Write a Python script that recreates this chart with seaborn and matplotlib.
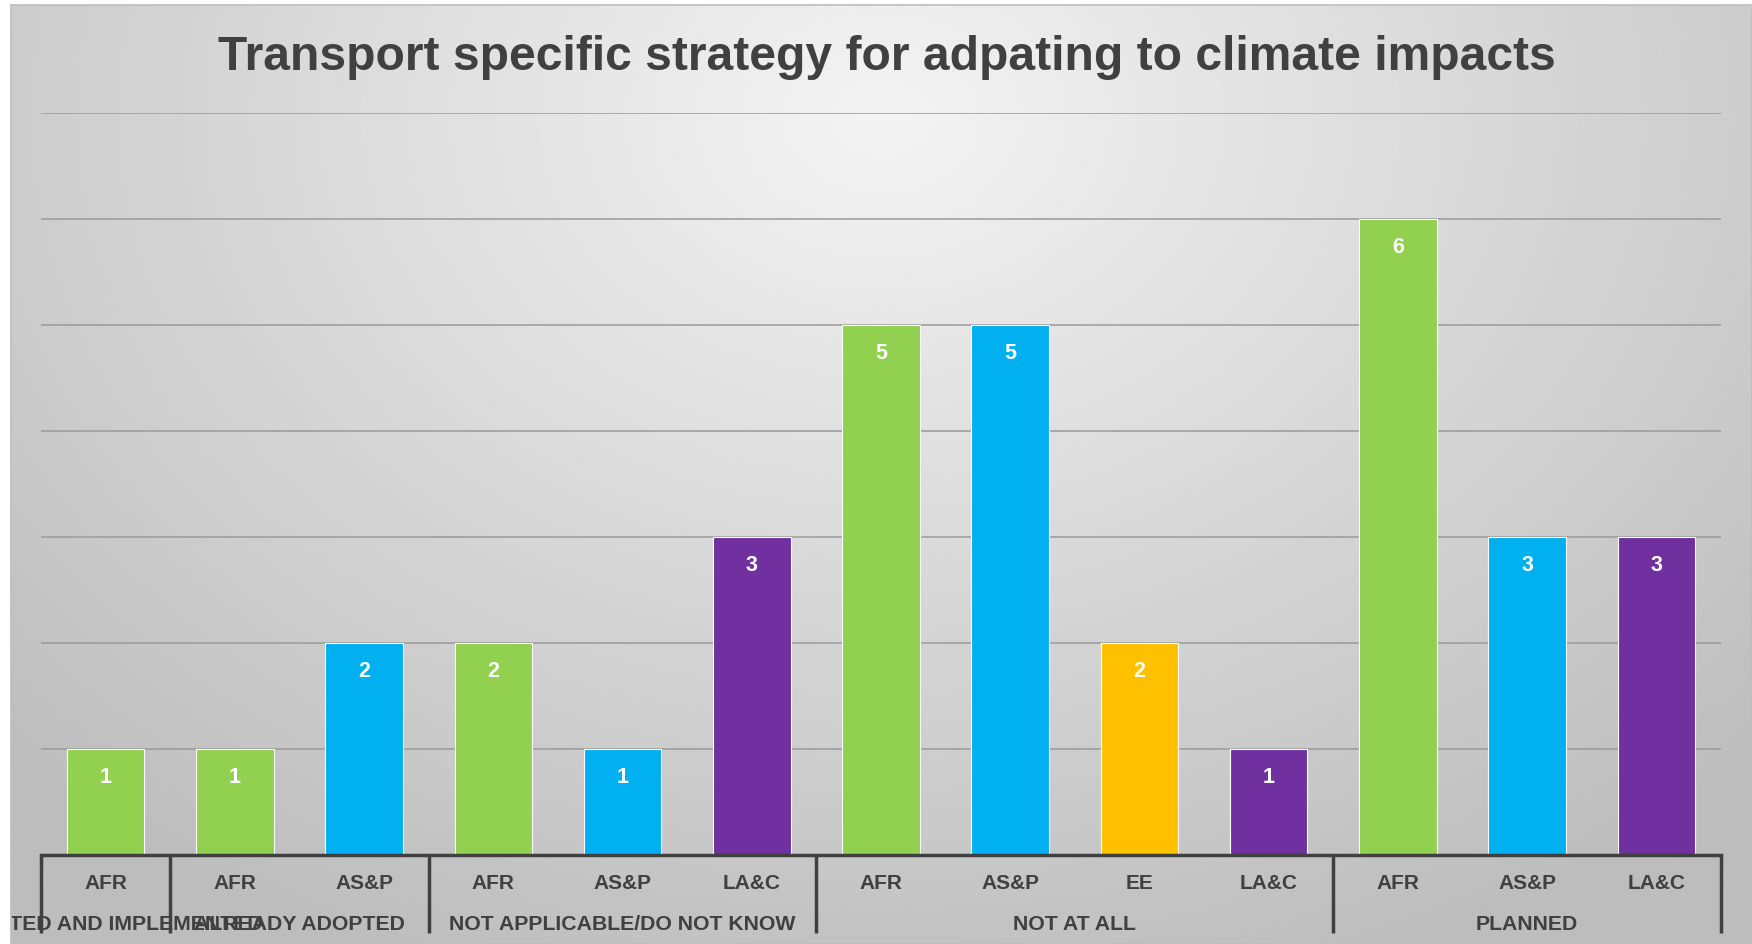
import numpy as np
import pandas as pd
import matplotlib
matplotlib.use("Agg")
import matplotlib.pyplot as plt
import seaborn as sns

# ---- data ----
regions = ["AFR", "AFR", "AS&P", "AFR", "AS&P", "LA&C", "AFR", "AS&P", "EE", "LA&C", "AFR", "AS&P", "LA&C"]
statuses = ["ADOPTED AND IMPLEMENTED", "ALREADY ADOPTED", "ALREADY ADOPTED",
            "NOT APPLICABLE/DO NOT KNOW", "NOT APPLICABLE/DO NOT KNOW", "NOT APPLICABLE/DO NOT KNOW",
            "NOT AT ALL", "NOT AT ALL", "NOT AT ALL", "NOT AT ALL",
            "PLANNED", "PLANNED", "PLANNED"]
values = [1, 1, 2, 2, 1, 3, 5, 5, 2, 1, 6, 3, 3]
region_colors = {"AFR": "#92D050", "AS&P": "#00B0F0", "EE": "#FFC000", "LA&C": "#7030A0"}
title = "Transport specific strategy for adpating to climate impacts"

df = pd.DataFrame({"pos": list(range(len(values))), "region": regions,
                   "status": statuses, "value": values})

sns.set_theme(style="white")
plt.rcParams["font.family"] = ["Liberation Sans", "DejaVu Sans"]

W, H = 1752, 945
fig = plt.figure(figsize=(W / 100, H / 100), dpi=100)
fig.patch.set_facecolor("white")

# background gradient panel
bg = fig.add_axes([11 / W, 0, 1 - 11 / W, 1 - 6 / H], zorder=-10)
yy, xx = np.mgrid[0:1:400j, 0:1:800j]
r = np.sqrt(((xx - 0.5) / 0.75) ** 2 + ((yy - 0.12) / 1.05) ** 2)
img = np.clip(0.955 - 0.23 * r, 0.74, 0.96)
bg.imshow(img, cmap="gray", vmin=0, vmax=1, aspect="auto", extent=[0, 1, 1, 0])
bg.set_axis_off()

# white margin strips (drawn above everything) and panel frame
fig.patches.append(plt.Rectangle((0, 0), 11 / W, 1, transform=fig.transFigure,
                                 facecolor="white", edgecolor="none", zorder=20))
fig.patches.append(plt.Rectangle((0, 1 - 6 / H), 1, 6 / H, transform=fig.transFigure,
                                 facecolor="white", edgecolor="none", zorder=20))
fig.patches.append(plt.Rectangle((11 / W, 0), 1 - 11 / W, 1 - 6 / H, transform=fig.transFigure,
                                 fill=False, edgecolor="#bdbdbd", linewidth=1.2, zorder=21))

ax = fig.add_axes([41 / W, 89 / H, (1721 - 41) / W, (856 - 114) / H])
ax.patch.set_alpha(0)

sns.barplot(data=df, x="pos", y="value", hue="region", palette=region_colors,
            dodge=False, width=0.6, legend=False, ax=ax, edgecolor="white",
            linewidth=0.8, saturation=1, zorder=3)

ax.set_xlim(-0.5, len(values) - 0.5)
ax.set_ylim(0, 7)
ax.set_yticks(range(0, 8))
ax.yaxis.grid(True, color="#9a9a9a", linewidth=1.1, zorder=0)
ax.set_axisbelow(True)
ax.tick_params(left=False, labelleft=False, bottom=False, labelbottom=False)
for s in ["left", "right", "top"]:
    ax.spines[s].set_visible(False)
ax.spines["bottom"].set_color("#404040")
ax.spines["bottom"].set_linewidth(2.5)
ax.spines["bottom"].set_zorder(5)
ax.set_xlabel("")
ax.set_ylabel("")

# value labels
for i, v in enumerate(values):
    ax.annotate(str(v), xy=(i, v), xytext=(0, -20), textcoords="offset points",
                ha="center", va="center", color="white", fontsize=15.5, fontweight="bold", zorder=6)

# region labels
for i, reg in enumerate(regions):
    ax.annotate(reg, xy=(i, 0), xycoords=("data", "axes fraction"), xytext=(0, -20),
                textcoords="offset points", ha="center", va="center", color="#404040",
                fontsize=15, fontweight="bold", annotation_clip=False)

# group labels and separators
groups = []
for i, st in enumerate(statuses):
    if not groups or groups[-1][0] != st:
        groups.append([st, i, i])
    else:
        groups[-1][2] = i
for st, a, b in groups:
    ax.annotate(st, xy=((a + b) / 2, 0), xycoords=("data", "axes fraction"), xytext=(0, -49),
                textcoords="offset points", ha="center", va="center", color="#404040",
                fontsize=15.3, fontweight="bold", annotation_clip=False)
bounds = [g[1] - 0.5 for g in groups] + [len(values) - 0.5]
for bx in bounds:
    ax.plot([bx, bx], [0, -78 / 742 * 7], color="#404040", linewidth=2.5,
            clip_on=False, zorder=5, solid_capstyle="butt")

fig.text(0.506, 1 - 57 / H, title, ha="center", va="center", fontsize=34.6,
         fontweight="bold", color="#404040")

fig.savefig("out.png", dpi=100)
